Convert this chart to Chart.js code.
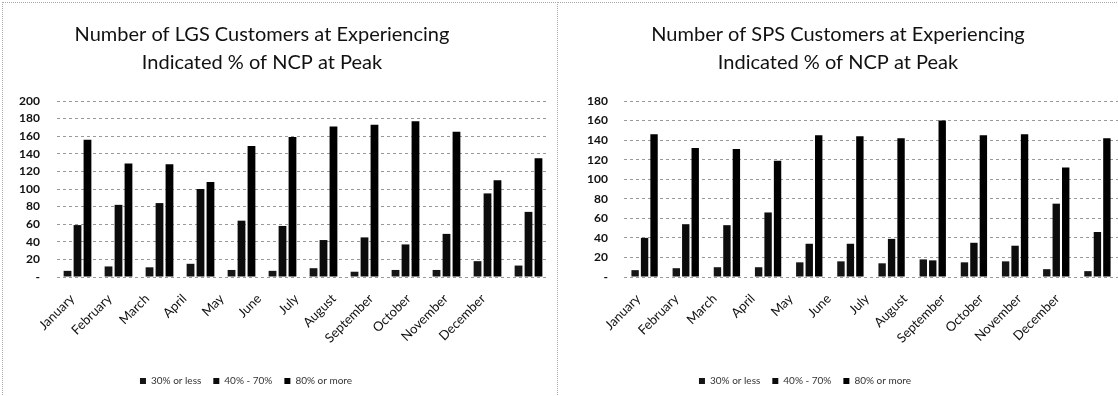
<!DOCTYPE html>
<html>
<head>
<meta charset="utf-8">
<script src="https://cdn.jsdelivr.net/npm/chart.js@4.4.1/dist/chart.umd.min.js"></script>
<style>
  html, body { margin: 0; padding: 0; background: #fff; }
  body { width: 1118px; height: 396px; position: relative; overflow: hidden; }
  #c1 { position: absolute; left: -25px; top: 0; }
  #c2 { position: absolute; left: 558px; top: 0; }
  .frame { position: absolute; border-top: 1px dotted #aaa; border-left: 1px dotted #aaa; }
</style>
</head>
<body>
<div class="frame" style="left:2px; top:2px; width:555px; height:394px;"></div>
<div class="frame" style="left:557px; top:2px; width:561px; height:394px;"></div>
<canvas id="c1" width="574" height="396"></canvas>
<canvas id="c2" width="560" height="396"></canvas>
<script>
const months = ['January','February','March','April','May','June','July','August','September','October','November','December'];
const seriesNames = ['30% or less', '40% - 70%', '80% or more'];

const lgsTitle = ['Number of LGS Customers at Experiencing', 'Indicated % of NCP at Peak'];
const lgsLow  = [7, 12, 11, 15, 8, 7, 10, 6, 8, 8, 18, 13];
const lgsMid  = [59, 82, 84, 100, 64, 58, 42, 45, 37, 49, 95, 74];
const lgsHigh = [156, 129, 128, 108, 149, 159, 171, 173, 177, 165, 110, 135];
const lgsMax = 200;

const spsTitle = ['Number of SPS Customers at Experiencing', 'Indicated % of NCP at Peak'];
const spsLow  = [7, 9, 10, 10, 15, 16, 14, 18, 15, 16, 8, 6];
const spsMid  = [40, 54, 53, 66, 34, 34, 39, 17, 35, 32, 75, 46];
const spsHigh = [146, 132, 131, 119, 145, 144, 142, 160, 145, 146, 112, 142];
const spsMax = 180;

const tickStep = 20;
const barColors = ['#151515', '#0c0c0c', '#000000'];
const FONT = 'Lato, "Open Sans", sans-serif';

// plugin: shift the legend horizontally (per chart option legendShift)
const legendShift = {
  id: 'legendShift',
  afterLayout(chart, args, opts) {
    const dx = opts.dx || 0;
    if (chart.legend) { chart.legend.left += dx; chart.legend.right += dx; }
  }
};

function makeChart(id, title, low, mid, high, max, cfg) {
  const vals = [low, mid, high];
  return new Chart(document.getElementById(id), {
    type: 'bar',
    data: {
      labels: months,
      datasets: vals.map((v, i) => ({
        label: seriesNames[i],
        data: v,
        backgroundColor: barColors[i],
        borderWidth: 0,
        barPercentage: 0.78,
        categoryPercentage: cfg.catPct
      }))
    },
    plugins: [legendShift],
    options: {
      responsive: false,
      animation: false,
      layout: { padding: { left: 0, right: 0, top: 0, bottom: 0 } },
      plugins: {
        legendShift: { dx: cfg.legendDx },
        title: {
          display: true,
          text: title,
          color: '#111',
          font: { family: FONT, size: 20, weight: 'normal', lineHeight: 1.4 },
          padding: { top: 21, bottom: 24 }
        },
        legend: {
          position: 'bottom',
          labels: {
            boxWidth: 6, boxHeight: 6, color: '#333', padding: 12,
            font: { family: FONT, size: 10 }
          }
        },
        tooltip: { enabled: false }
      },
      scales: {
        x: { display: false },
        xLabels: {
          type: 'linear',
          position: 'bottom',
          offset: false,
          bounds: 'data',
          min: cfg.labelMin, max: cfg.labelMax,
          grid: { display: false, drawTicks: false, offset: false },
          border: { display: false },
          afterBuildTicks: s => { s.ticks = months.map((m, i) => ({ value: i })); },
          ticks: {
            autoSkip: false,
            minRotation: 45, maxRotation: 45, padding: 14, color: '#111',
            font: { family: FONT, size: 13 },
            callback: v => months[v]
          },
          afterFit: s => { s.height = 87; }
        },
        y: {
          min: 0, max: max,
          grid: { color: '#999', drawTicks: false, lineWidth: 1 },
          border: { display: false, dash: [3, 3] },
          ticks: {
            stepSize: tickStep, padding: cfg.yPad, color: '#111',
            font: { family: FONT, size: 12, weight: 'bold' },
            callback: v => v === 0 ? '-' : v
          },
          afterFit: s => { s.width = cfg.yWidth; }
        }
      }
    }
  });
}

makeChart('c1', lgsTitle, lgsLow, lgsMid, lgsHigh, lgsMax,
  { yWidth: 82, yPad: 17, catPct: 0.73, legendDx: -16, labelMin: -0.412, labelMax: 12.76 });
makeChart('c2', spsTitle, spsLow, spsMid, spsHigh, spsMax,
  { yWidth: 66, yPad: 16, catPct: 0.69, legendDx: -33, labelMin: -0.378, labelMax: 12.59 });
</script>
</body>
</html>
